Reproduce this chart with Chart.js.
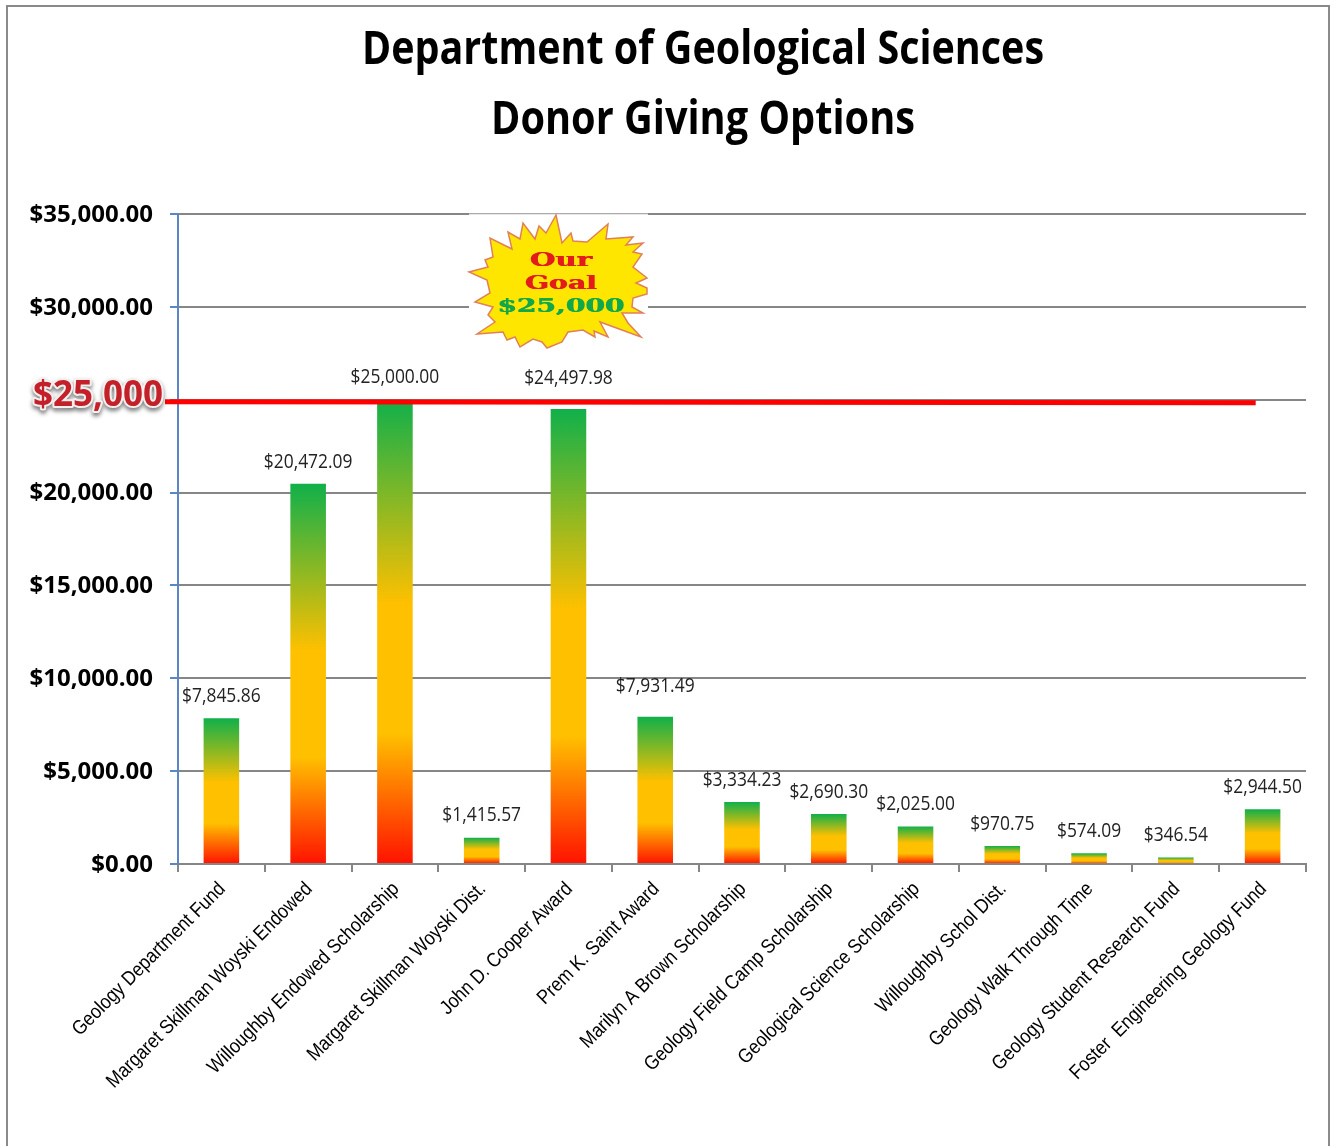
<!DOCTYPE html>
<html>
<head>
<meta charset="utf-8">
<title>Donor Giving Options</title>
<script src="https://cdn.jsdelivr.net/npm/chart.js@4"></script>
<style>
  html, body { margin: 0; padding: 0; background: #fff; }
  #wrap { width: 1336px; height: 1146px; }
</style>
</head>
<body>
<div id="wrap"><canvas id="myChart" width="1336" height="1146"></canvas></div>
<script>
const titleLines = ['Department of Geological Sciences', 'Donor Giving Options'];
const funds = [
  'Geology Department Fund',
  'Margaret Skillman Woyski Endowed',
  'Willoughby Endowed Scholarship',
  'Margaret Skillman Woyski Dist.',
  'John D. Cooper Award',
  'Prem K. Saint Award',
  'Marilyn A Brown Scholarship',
  'Geology Field Camp Scholarship',
  'Geological Science Scholarship',
  'Willoughby Schol Dist.',
  'Geology Walk Through Time',
  'Geology Student Research Fund',
  'Foster  Engineering Geology Fund',
];
const amounts = [7845.86, 20472.09, 25000, 1415.57, 24497.98, 7931.49, 3334.23, 2690.3, 2025, 970.75, 574.09, 346.54, 2944.5];
const goalAmount = 25000;
const goalBadgeLines = ['Our', 'Goal', '$25,000'];

const money = (v) => '$' + v.toLocaleString('en-US', { minimumFractionDigits: 2, maximumFractionDigits: 2 });

// outline of the starburst, in pixels of its own box
const burst = [
  [116, 15], [122, 43], [131, 33], [133, 41], [147, 42], [168, 24], [166, 39], [193, 37], [186, 45], [203, 43],
  [193, 52], [202, 54], [193, 67], [207, 78], [196, 83], [207, 88], [207, 94], [193, 98], [192, 107], [203, 113],
  [182, 113], [188, 123], [201, 137], [160, 122], [168, 137], [154, 131], [155, 137], [143, 130], [128, 132], [122, 142],
  [107, 148], [102, 142], [93, 139], [80, 147], [75, 137], [67, 140], [63, 132], [37, 134], [55, 122], [48, 115],
  [53, 107], [35, 102], [50, 93], [47, 80], [29, 72], [48, 67], [45, 60], [53, 57], [50, 38], [72, 49],
  [68, 32], [80, 39], [83, 23], [95, 39], [99, 26], [106, 33],
];

// no narrow font installed, so squeeze the text sideways
function squeezedText(c, text, x, y, sx) {
  c.save();
  c.translate(x, y);
  c.scale(sx, 1);
  c.fillText(text, 0, 0);
  c.restore();
}

function fitText(c, text, x, y, width) {
  squeezedText(c, text, x, y, width / c.measureText(text).width);
}

function barGradient(context) {
  const chart = context.chart;
  if (!chart.chartArea) return '#FFC000';
  const y = chart.scales.y;
  const g = chart.ctx.createLinearGradient(0, y.getPixelForValue(0), 0, y.getPixelForValue(amounts[context.dataIndex]));
  g.addColorStop(0, '#FF1200');
  g.addColorStop(0.28, '#FFC000');
  g.addColorStop(0.56, '#FFC000');
  g.addColorStop(1, '#10B04A');
  return g;
}

const framePlugin = {
  id: 'frame',
  beforeDraw(chart) {
    const c = chart.ctx;
    c.save();
    c.strokeStyle = '#8a8a8a';
    c.lineWidth = 2;
    c.beginPath();
    c.moveTo(7, 1146);
    c.lineTo(7, 6);
    c.lineTo(1329, 6);
    c.lineTo(1329, 1146);
    c.stroke();

    c.font = 'bold 46px "Open Sans"';
    c.fillStyle = '#000';
    c.textAlign = 'center';
    c.textBaseline = 'alphabetic';
    fitText(c, titleLines[0], 703, 64, 682);
    fitText(c, titleLines[1], 703, 134, 424);
    c.restore();
  },
};

const textPlugin = {
  id: 'textLabels',
  afterDatasetsDraw(chart) {
    const c = chart.ctx;
    const lift = { 4: 31, 5: 30 };
    c.save();
    c.font = '20px "Open Sans"';
    c.fillStyle = '#222';
    c.textAlign = 'center';
    c.textBaseline = 'middle';
    chart.getDatasetMeta(0).data.forEach((bar, i) => {
      squeezedText(c, money(amounts[i]), bar.x, bar.y - (lift[i] || 22), 0.87);
    });

    c.font = '20px "Liberation Sans"';
    c.fillStyle = '#000';
    c.textAlign = 'right';
    funds.forEach((name, i) => {
      c.save();
      c.translate(chart.scales.x.getPixelForTick(i) + 1, chart.chartArea.bottom + 22);
      c.rotate(-Math.PI / 4);
      squeezedText(c, name, 0, 0, 0.88);
      c.restore();
    });
    c.restore();
  },
};

const goalPlugin = {
  id: 'goal',
  afterDraw(chart) {
    const c = chart.ctx;
    const y = chart.scales.y.getPixelForValue(goalAmount);
    const left = chart.chartArea.left;
    const right = chart.scales.x.getPixelForValue(11.92);

    c.save();
    c.strokeStyle = '#FF0000';
    c.lineWidth = 5;
    c.beginPath();
    c.moveTo(left - 13, y + 2);
    c.lineTo(right, y + 3);
    c.stroke();

    c.font = 'bold 35px "Open Sans"';
    c.textAlign = 'right';
    c.textBaseline = 'middle';
    c.shadowColor = 'rgba(0,0,0,0.55)';
    c.shadowBlur = 4;
    c.shadowOffsetY = 3;
    c.lineJoin = 'round';
    c.strokeStyle = '#f4f0f0';
    c.lineWidth = 4;
    c.strokeText('$25,000', left - 15, y - 4);
    c.shadowColor = 'transparent';
    c.fillStyle = '#C4202A';
    c.fillText('$25,000', left - 15, y - 4);
    c.restore();

    // starburst badge sits over the gridlines
    c.save();
    c.translate(440, 200);
    c.fillStyle = '#fff';
    c.fillRect(29, 14, 179, 136);
    c.strokeStyle = '#d0d0d0';
    c.lineWidth = 1;
    c.beginPath();
    c.moveTo(29, 14);
    c.lineTo(208, 14);
    c.stroke();
    c.beginPath();
    burst.forEach((p, i) => (i ? c.lineTo(p[0], p[1]) : c.moveTo(p[0], p[1])));
    c.closePath();
    c.fillStyle = '#FFE600';
    c.fill();
    c.strokeStyle = '#E0805A';
    c.lineWidth = 1.5;
    c.stroke();
    c.textAlign = 'center';
    c.textBaseline = 'middle';
    c.font = 'bold 18px "DejaVu Serif"';
    // drawn twice, half a pixel apart, for the heavier face
    [-0.5, 0.5].forEach((dx) => {
      c.fillStyle = '#E31B1B';
      fitText(c, goalBadgeLines[0], 121 + dx, 61, 62);
      fitText(c, goalBadgeLines[1], 121 + dx, 84, 72);
      c.fillStyle = '#10A84A';
      fitText(c, goalBadgeLines[2], 121 + dx, 107, 127);
    });
    c.restore();
  },
};

const myChart = new Chart(document.getElementById('myChart'), {
  type: 'bar',
  plugins: [framePlugin, textPlugin, goalPlugin],
  data: {
    labels: funds,
    datasets: [
      {
        label: 'Donations',
        data: amounts,
        backgroundColor: barGradient,
        barPercentage: 0.41,
        categoryPercentage: 1,
      },
    ],
  },
  options: {
    responsive: false,
    animation: false,
    layout: {
      padding: { left: 0, right: 30, top: 214, bottom: 0 },
    },
    plugins: {
      legend: { display: false },
      tooltip: { enabled: false },
    },
    scales: {
      x: {
        afterFit(scale) {
          scale.height = 282;
        },
        grid: {
          drawOnChartArea: false,
          color: '#868686',
          tickColor: '#868686',
          tickLength: 8,
          lineWidth: 2,
        },
        border: { color: '#868686', width: 2 },
        ticks: { display: false },
      },
      y: {
        min: 0,
        max: 35000,
        afterFit(scale) {
          scale.width = 178;
        },
        grid: {
          color: '#868686',
          tickColor: '#5B86C5',
          tickLength: 8,
          lineWidth: 2,
        },
        border: { color: '#5B86C5', width: 2 },
        ticks: {
          stepSize: 5000,
          padding: 17,
          labelOffset: 1,
          color: '#000',
          font: { family: '"Open Sans"', size: 24, weight: 'bold' },
          callback: (v) => (v === goalAmount ? '' : money(v)),
        },
      },
    },
  },
});
</script>
</body>
</html>
